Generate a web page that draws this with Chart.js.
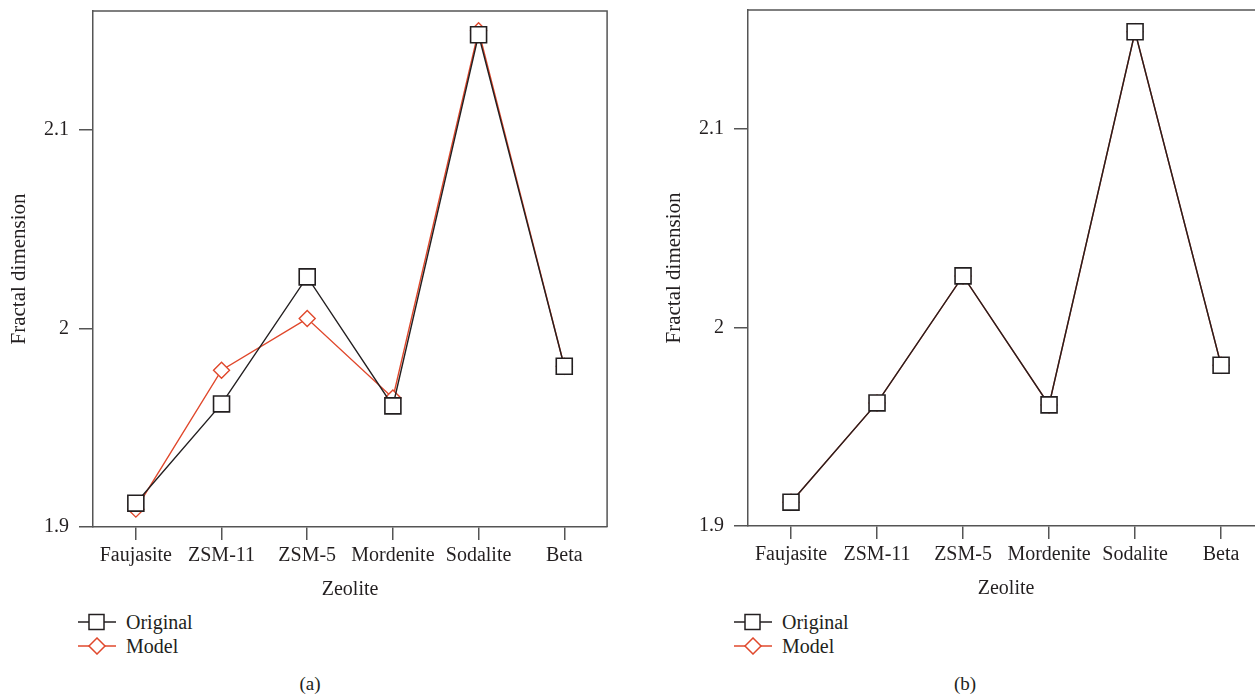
<!DOCTYPE html>
<html>
<head>
<meta charset="utf-8">
<script src="https://cdn.jsdelivr.net/npm/chart.js@4/dist/chart.umd.min.js"></script>
<style>
  body { margin: 0; background: #fff; width: 1255px; height: 695px; overflow: hidden; position: relative; font-family: "Liberation Serif", "DejaVu Serif", serif; color: #231f20; }
  .panel { position: absolute; top: 0; }
  .legend { position: absolute; font-size: 20px; line-height: 24px; }
  .legend div { display: flex; align-items: center; height: 24px; }
  .legend svg { margin-right: 10px; }
  .caption { position: absolute; top: 673px; font-size: 19px; width: 60px; text-align: center; }
</style>
</head>
<body>
<canvas id="chartA" class="panel" width="620" height="612" style="left:0px;top:-2px"></canvas>
<canvas id="chartB" class="panel" width="622" height="612" style="left:655px;top:-3px"></canvas>

<div class="legend" style="left:78px;top:610px">
  <div><svg width="38" height="18"><line x1="0" y1="9" x2="38" y2="9" stroke="#231f20" stroke-width="1.5"/><rect x="11" y="1.5" width="15" height="15" fill="#fff" stroke="#231f20" stroke-width="1.5"/></svg>Original</div>
  <div><svg width="38" height="18"><line x1="0" y1="9" x2="38" y2="9" stroke="#e0482c" stroke-width="1.5"/><polygon points="11,9 19,1 27,9 19,17" fill="#fff" stroke="#e0482c" stroke-width="1.5"/></svg>Model</div>
</div>
<div class="legend" style="left:734px;top:610px">
  <div><svg width="38" height="18"><line x1="0" y1="9" x2="38" y2="9" stroke="#231f20" stroke-width="1.5"/><rect x="11" y="1.5" width="15" height="15" fill="#fff" stroke="#231f20" stroke-width="1.5"/></svg>Original</div>
  <div><svg width="38" height="18"><line x1="0" y1="9" x2="38" y2="9" stroke="#e0482c" stroke-width="1.5"/><polygon points="11,9 19,1 27,9 19,17" fill="#fff" stroke="#e0482c" stroke-width="1.5"/></svg>Model</div>
</div>
<div class="caption" style="left:280px">(a)</div>
<div class="caption" style="left:935px">(b)</div>

<script>
// categories along the x-axis
var Zeolites = ["Faujasite", "ZSM-11", "ZSM-5", "Mordenite", "Sodalite", "Beta"];
// y-axis ticks
var yTicks = [1.9, 2.0, 2.1];
// panel (a)
var Original_A = [1.912, 1.962, 2.026, 1.961, 2.148, 1.981];
var Model_A = [1.909, 1.979, 2.005, 1.965, 2.150, 1.981];
// panel (b)
var Original_B = [1.912, 1.962, 2.026, 1.961, 2.149, 1.981];
var Model_B = [1.912, 1.962, 2.026, 1.961, 2.149, 1.981];

var axisColor = "#555555";
var textColor = "#231f20";
var font = { family: "'Liberation Serif', 'DejaVu Serif', serif", size: 20 };
var titleFont = { family: "'Liberation Serif', 'DejaVu Serif', serif", size: 21 };

// top and right edge of the frame
var frameBox = {
  id: "frameBox",
  afterDraw: function (chart) {
    var a = chart.chartArea, c = chart.ctx;
    c.save();
    c.strokeStyle = axisColor;
    c.lineWidth = 1.5;
    c.beginPath();
    c.moveTo(a.left, a.top);
    c.lineTo(a.right, a.top);
    c.lineTo(a.right, a.bottom);
    c.stroke();
    c.restore();
  }
};

function makeChart(id, original, model) {
  return new Chart(document.getElementById(id), {
    type: "line",
    data: {
      labels: Zeolites,
      datasets: [
        {
          label: "Original",
          data: original,
          borderColor: "#231f20",
          borderWidth: 1.4,
          pointStyle: "rect",
          pointRadius: 11.3,
          pointHoverRadius: 11.3,
          pointBorderWidth: 1.6,
          pointBackgroundColor: "#ffffff",
          pointBorderColor: "#231f20",
          tension: 0,
          fill: false
        },
        {
          label: "Model",
          data: model,
          borderColor: "#e0482c",
          borderWidth: 1.4,
          pointStyle: "rectRot",
          pointRadius: 8,
          pointHoverRadius: 8,
          pointBorderWidth: 1.4,
          pointBackgroundColor: "#ffffff",
          pointBorderColor: "#e0482c",
          tension: 0,
          fill: false
        }
      ]
    },
    options: {
      responsive: false,
      animation: false,
      layout: { padding: { top: 8, right: 12, left: 0, bottom: 0 } },
      plugins: { legend: { display: false }, tooltip: { enabled: false } },
      scales: {
        x: {
          type: "category",
          offset: true,
          afterFit: function (s) { s.height = 83; },
          grid: { drawOnChartArea: false, drawTicks: true, tickLength: 13, color: axisColor, lineWidth: 1.5 },
          border: { display: true, color: axisColor, width: 1.5 },
          ticks: { color: textColor, font: font, padding: 4, maxRotation: 0, autoSkip: false },
          title: { display: true, text: "Zeolite", color: textColor, font: font, padding: { top: 0, bottom: 8 } }
        },
        y: {
          min: 1.9,
          max: 2.16,
          afterFit: function (s) { s.width = 93; s.paddingTop = 0; s.paddingBottom = 0; },
          afterBuildTicks: function (s) { s.ticks = yTicks.map(function (v) { return { value: v }; }); },
          grid: { drawOnChartArea: false, drawTicks: true, tickLength: 14, color: axisColor, lineWidth: 1.5 },
          border: { display: true, color: axisColor, width: 1.5 },
          ticks: { color: textColor, font: font, padding: 10, callback: function (v) { return String(Math.round(v * 10) / 10); } },
          title: { display: true, text: "Fractal dimension", color: textColor, font: titleFont, padding: { top: 7, bottom: 0 } }
        }
      }
    },
    plugins: [frameBox]
  });
}

var ChartA = makeChart("chartA", Original_A, Model_A);
var ChartB = makeChart("chartB", Original_B, Model_B);
</script>
</body>
</html>
